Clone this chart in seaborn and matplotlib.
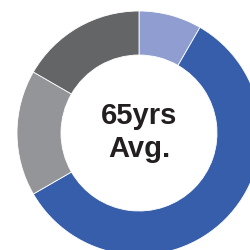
import matplotlib
matplotlib.use("Agg")
import matplotlib.pyplot as plt
import seaborn as sns

labels = ["Group A", "Group B", "Group C", "Group D"]
shares = [1, 7, 2, 2]
colors = ["#8f9dd0", "#365eab", "#939598", "#646567"]
center_lines = ["65yrs", "Avg."]

sns.set_theme(style="white")
plt.rcParams["font.family"] = ["Liberation Sans", "DejaVu Sans"]

fig = plt.figure(figsize=(2.5, 2.5), dpi=100)
ax = fig.add_axes([0, 0, 1, 1])

# donut, partly cut off by the right and bottom edges
ax.pie(
    shares,
    colors=colors,
    startangle=90,
    counterclock=False,
    center=(139, 117),
    radius=122,
    wedgeprops=dict(width=44, edgecolor="white", linewidth=0.6),
    frame=True,
)
ax.set_xlim(0, 250)
ax.set_ylim(0, 250)
ax.set_aspect("equal")
ax.axis("off")

ax.text(139, 126, center_lines[0], ha="center", va="baseline",
        fontsize=21, fontweight="bold", color="#231f20")
ax.text(139, 93, center_lines[1], ha="center", va="baseline",
        fontsize=21, fontweight="bold", color="#231f20")

fig.savefig("out.png", dpi=100)
